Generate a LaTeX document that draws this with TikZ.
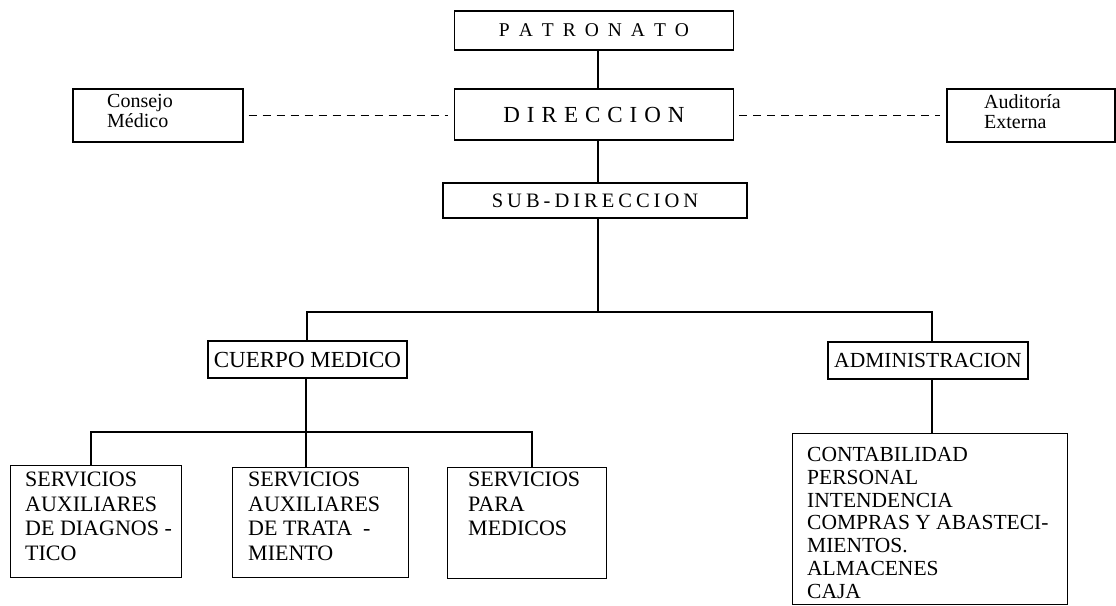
\documentclass[tikz,border=0pt]{standalone}
\usepackage{fontspec}
\setmainfont{Liberation Serif}
\newdimen\lsgap
\def\lsp#1#2{\lsgap=#1\relax\lsfirst#2\relax}
\def\lsfirst#1{#1\lsnext}
\def\lsnext#1{\ifx#1\relax\else\kern\lsgap #1\expandafter\lsnext\fi}
\begin{document}
\begin{tikzpicture}[x=1pt,y=-1pt,
  box/.style={draw=black, rectangle, inner sep=0pt, line width=1.1pt},
  conn/.style={draw=black, line width=1.1pt},
  dashconn/.style={draw=black, line width=1.1pt, dash pattern=on 8pt off 6pt, shorten <=5pt, shorten >=6pt},
  boxtext/.style={anchor=north west, inner sep=0pt, align=left, font=\fontsize{22pt}{24.5pt}\selectfont},
  admtext/.style={anchor=north west, inner sep=0pt, align=left, font=\fontsize{21.5pt}{22.8pt}\selectfont},
  sidetext/.style={anchor=north west, inner sep=0pt, align=left, font=\fontsize{20pt}{20pt}\selectfont},
  midtext/.style={font=\fontsize{21.5pt}{24pt}\selectfont}]
\useasboundingbox (0,0) rectangle (1116,605);
\fill[white] (0,0) rectangle (1116,605);

\coordinate (spine) at (598,0);

% top chain
\node[box, minimum width=279pt, minimum height=39pt] (pat) at (594,30.5)
  {\fontsize{19.5pt}{22pt}\selectfont\lsp{9pt}{PATRONATO}};
\node[box, minimum width=279pt, minimum height=51pt] (dir) at (594,114.5)
  {\raisebox{-2pt}{\fontsize{23pt}{25pt}\selectfont\lsp{7pt}{DIRECCION}}};
\node[box, minimum width=304pt, minimum height=35pt] (sub) at (595,200.5)
  {\fontsize{20.5pt}{22pt}\selectfont\lsp{4pt}{SUB-DIRECCION}};

% side boxes
\node[box, minimum width=170pt, minimum height=53pt] (cons) at (158,115.5) {};
\node[sidetext] (const) at (107,94) {Consejo\\Médico};
\node[box, minimum width=168pt, minimum height=53pt] (aud) at (1031,115.5) {};
\node[sidetext] (audt) at (984,94) {Auditoría\\Externa};

% second level
\node[box, minimum width=199pt, minimum height=37pt, font=\fontsize{23pt}{24pt}\selectfont] (cue) at (307.5,359.5) {CUERPO MEDICO};
\node[box, minimum width=200pt, minimum height=37pt, midtext] (adm) at (928,360.5) {ADMINISTRACION};

% third level boxes
\node[box, anchor=north west, minimum width=171pt, minimum height=112pt] (s1) at (10,465) {};
\node[boxtext] (s1t) at (25,472) {SERVICIOS\\AUXILIARES\\DE DIAGNOS -\\TICO};
\node[box, anchor=north west, minimum width=176pt, minimum height=110pt] (s2) at (232,467) {};
\node[boxtext] (s2t) at (248,472) {SERVICIOS\\AUXILIARES\\DE TRATA\ \ -\\MIENTO};
\node[box, anchor=north west, minimum width=159pt, minimum height=111pt] (s3) at (447,467) {};
\node[boxtext] (s3t) at (468,472) {SERVICIOS\\PARA\\MEDICOS};
\node[box, anchor=north west, minimum width=275pt, minimum height=171pt] (ab) at (792,433) {};
\node[admtext] (abt) at (807,447) {CONTABILIDAD\\PERSONAL\\INTENDENCIA\\COMPRAS Y ABASTECI-\\MIENTOS.\\ALMACENES\\CAJA};

% connectors
\draw[conn] (pat.south -| spine) -- (dir.north -| spine);
\draw[conn] (dir.south -| spine) -- (sub.north -| spine);
\draw[dashconn] (cons.east) -- (cons.east -| dir.west);
\draw[dashconn] (dir.east |- aud.west) -- (aud.west);

\coordinate (b1) at (598,312);
\coordinate (cueX) at (307,0);
\coordinate (admX) at (932,0);
\draw[conn] (sub.south -| spine) -- (b1);
\draw[conn] (cue.north -| cueX) -- (b1 -| cueX) -- (b1 -| admX) -- (adm.north -| admX);

\coordinate (b2) at (306,432);
\coordinate (s1X) at (91,0);
\coordinate (s3X) at (532,0);
\draw[conn] (cue.south -| b2) -- (b2);
\draw[conn] (s1.north -| s1X) -- (b2 -| s1X) -- (b2 -| s3X) -- (s3.north -| s3X);
\draw[conn] (b2) -- (s2.north -| b2);

\draw[conn] (adm.south -| admX) -- (ab.north -| admX);
\end{tikzpicture}
\end{document}
